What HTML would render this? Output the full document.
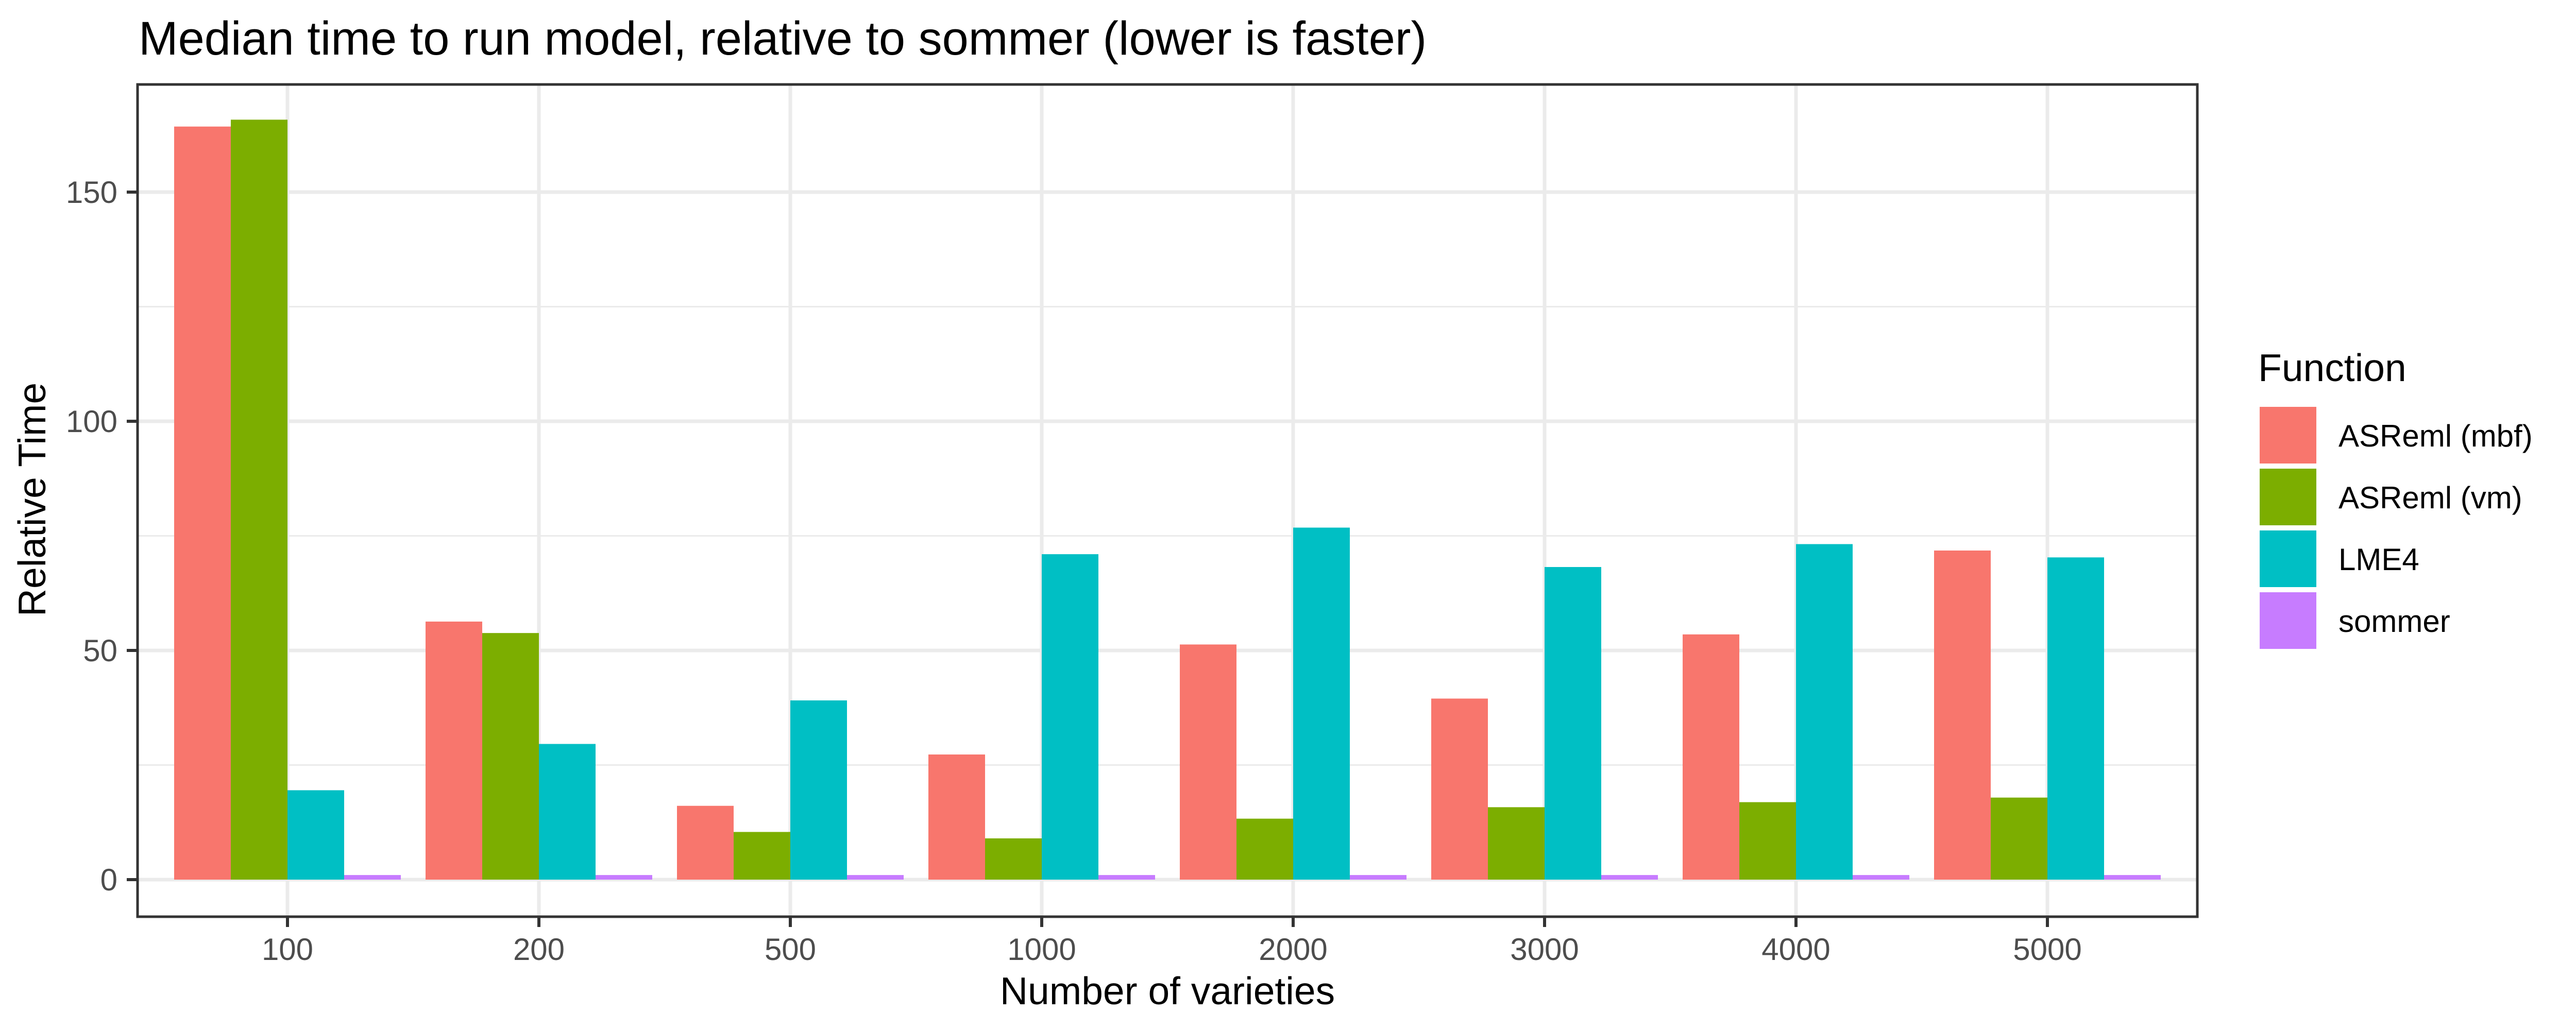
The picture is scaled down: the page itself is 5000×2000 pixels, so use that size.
<!DOCTYPE html>
<html><head><meta charset="utf-8"><style>html,body{margin:0;padding:0;background:#fff}svg{display:block}text{font-family:"Liberation Sans",Arial,sans-serif}</style></head>
<body>
<svg id="chart" width="5000" height="2000" viewBox="0 0 5000 2000" xmlns="http://www.w3.org/2000/svg">
<rect width="5000" height="2000" fill="#fff"/>
<text x="269" y="106" font-size="92" fill="#000">Median time to run model, relative to sommer (lower is faster)</text>
<g id="grid"></g><g id="bars"></g>
<rect x="267" y="164" width="3998" height="1616" fill="none" stroke="#333" stroke-width="5"/>
<g id="axes"></g>
<text x="2266" y="1950" font-size="75" text-anchor="middle" fill="#000">Number of varieties</text>
<text transform="translate(88,970) rotate(-90)" font-size="75" text-anchor="middle" fill="#000">Relative Time</text>
<text x="4383" y="740" font-size="75" fill="#000">Function</text>
<g id="legend"></g>
</svg>
<script>
const categories = ["100","200","500","1000","2000","3000","4000","5000"];
const seriesNames = ["ASReml (mbf)","ASReml (vm)","LME4","sommer"];
const mbf = [164.3,56.3,16.1,27.3,51.3,39.5,53.5,71.8];
const vm = [165.8,53.8,10.4,9.0,13.3,15.8,16.9,17.9];
const lme4 = [19.5,29.6,39.1,71.0,76.8,68.2,73.2,70.3];
const sommer = [1,1,1,1,1,1,1,1];
const yTicks = [0,50,100,150];
const yMinor = [25,75,125];
const colors = ["#F8766D","#7CAE00","#00BFC4","#C77CFF"];
const NS="http://www.w3.org/2000/svg";
const L=267,R=4265,T=164,B=1780;
const x0=558, step=488, barW=110;
function xPos(i){return x0+step*i;}
function yPos(v){return 1708-v*(1708-373)/150;}
function mk(tag,attrs,parent){const e=document.createElementNS(NS,tag);for(const k in attrs)e.setAttribute(k,attrs[k]);parent.appendChild(e);return e;}
const grid=document.getElementById('grid'),bars=document.getElementById('bars'),axes=document.getElementById('axes'),legend=document.getElementById('legend');
mk('rect',{x:L,y:T,width:R-L,height:B-T,fill:'#fff'},grid);
yMinor.forEach(v=>{const l=mk('line',{x1:L,x2:R,y1:yPos(v),y2:yPos(v),stroke:'#EBEBEB','stroke-width':3},grid);

});
yTicks.forEach(v=>{const l=mk('line',{x1:L,x2:R,y1:yPos(v),y2:yPos(v),stroke:'#EBEBEB','stroke-width':7},grid);


const t=mk('line',{x1:246,x2:267,y1:yPos(v),y2:yPos(v),stroke:'#333','stroke-width':6},axes);


const tx=mk('text',{x:228,y:yPos(v)+21,'font-size':60,'text-anchor':'end',fill:'#4D4D4D'},axes);tx.textContent=v;

});
const series=[mbf,vm,lme4,sommer];
categories.forEach((c,i)=>{const cx=xPos(i);
const g=mk('line',{x1:cx,x2:cx,y1:T,y2:B,stroke:'#EBEBEB','stroke-width':7},grid);


const t=mk('line',{x1:cx,x2:cx,y1:B,y2:B+20,stroke:'#333','stroke-width':6},axes);


const tx=mk('text',{x:cx,y:1864,'font-size':60,'text-anchor':'middle',fill:'#4D4D4D'},axes);tx.textContent=c;


series.forEach((s,j)=>{const bx=cx-2*barW+j*barW;const y=yPos(s[i]);
const r=mk('rect',{x:bx,y:y,width:barW,height:yPos(0)-y,fill:colors[j]},bars);

});});
seriesNames.forEach((n,j)=>{const y=790+j*120;
const k=mk('rect',{x:4386,y:y,width:110,height:110,fill:colors[j]},legend);


const t=mk('text',{x:4539,y:y+77,'font-size':60,fill:'#000'},legend);t.textContent=n;

});
</script>
</body></html>
